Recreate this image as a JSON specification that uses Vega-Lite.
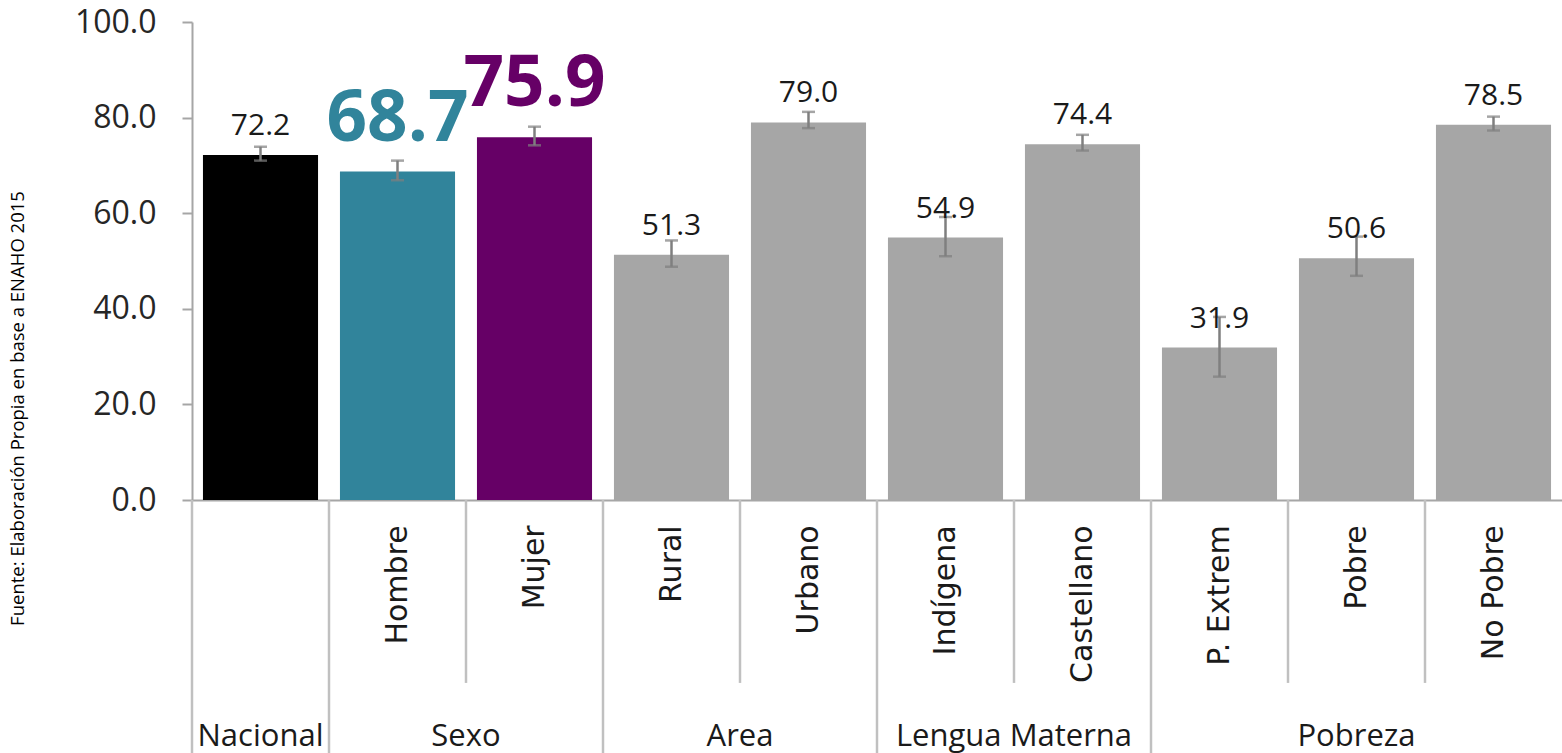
{
  "$schema": "https://vega.github.io/schema/vega-lite/v6.json",
  "padding": {"left": 8, "top": 6, "right": 0, "bottom": 0},
  "background": "white",
  "config": {"view": {"stroke": null}, "font": "Open Sans"},
  "bounds": "flush",
  "datasets": {
    "bars": [
      {"cat": "Nacional", "label": "", "value": 72.2, "lo": 71.0, "hi": 73.9},
      {"cat": "Hombre", "label": "Hombre", "value": 68.7, "lo": 66.9, "hi": 71.0},
      {"cat": "Mujer", "label": "Mujer", "value": 75.9, "lo": 74.2, "hi": 78.1},
      {"cat": "Rural", "label": "Rural", "value": 51.3, "lo": 48.8, "hi": 54.3},
      {"cat": "Urbano", "label": "Urbano", "value": 79.0, "lo": 77.8, "hi": 81.2},
      {"cat": "Indígena", "label": "Indígena", "value": 54.9, "lo": 51.0, "hi": 59.2},
      {"cat": "Castellano", "label": "Castellano", "value": 74.4, "lo": 73.1, "hi": 76.4},
      {"cat": "P. Extrem", "label": "P. Extrem", "value": 31.9, "lo": 25.8, "hi": 38.3},
      {"cat": "Pobre", "label": "Pobre", "value": 50.6, "lo": 46.9, "hi": 55.1},
      {"cat": "No Pobre", "label": "No Pobre", "value": 78.5, "lo": 77.3, "hi": 80.2}
    ],
    "seps": [
      {"cat": "Nacional", "kind": "group"},
      {"cat": "Hombre", "kind": "group"},
      {"cat": "Mujer", "kind": "sub"},
      {"cat": "Rural", "kind": "group"},
      {"cat": "Urbano", "kind": "sub"},
      {"cat": "Indígena", "kind": "group"},
      {"cat": "Castellano", "kind": "sub"},
      {"cat": "P. Extrem", "kind": "group"},
      {"cat": "Pobre", "kind": "sub"},
      {"cat": "No Pobre", "kind": "sub"}
    ],
    "groupsEdge": [
      {"group": "Sexo", "anchor": "Mujer"},
      {"group": "Area", "anchor": "Urbano"},
      {"group": "Lengua Materna", "anchor": "Castellano"}
    ],
    "groupsMid": [
      {"group": "Nacional", "anchor": "Nacional"},
      {"group": "Pobreza", "anchor": "Pobre"}
    ]
  },
  "vconcat": [
    {
      "width": 1370,
      "height": 478,
      "data": {"name": "bars"},
      "encoding": {
        "x": {
          "field": "cat", "type": "nominal", "sort": null,
          "scale": {"paddingInner": 0.16, "paddingOuter": 0.08},
          "axis": {"labels": false, "ticks": false, "title": null, "domainColor": "#a6a6a6", "domainWidth": 2}
        }
      },
      "layer": [
        {
          "mark": {"type": "bar"},
          "encoding": {
            "y": {
              "field": "value", "type": "quantitative",
              "scale": {"domain": [0, 100], "nice": false},
              "axis": {
                "values": [0, 20, 40, 60, 80, 100], "format": ".1f", "grid": false,
                "domainColor": "#a6a6a6", "domainWidth": 2, "tickColor": "#a6a6a6", "tickWidth": 2, "tickSize": 10,
                "labelFont": "Open Sans", "labelFontSize": 32, "labelColor": "#262626", "labelPadding": 26,
                "title": "Fuente: Elaboración Propia en base a ENAHO 2015",
                "titleFont": "Open Sans", "titleFontSize": 18.5, "titleFontWeight": "normal", "titleColor": "#000000",
                "titleAngle": 270, "titleX": -175, "titleY": 386, "titleAlign": "center", "titleBaseline": "middle"
              }
            },
            "color": {
              "field": "cat", "type": "nominal", "legend": null,
              "scale": {
                "domain": ["Nacional", "Hombre", "Mujer", "Rural", "Urbano", "Indígena", "Castellano", "P. Extrem", "Pobre", "No Pobre"],
                "range": ["#000000", "#31849B", "#660066", "#A6A6A6", "#A6A6A6", "#A6A6A6", "#A6A6A6", "#A6A6A6", "#A6A6A6", "#A6A6A6"]
              }
            }
          }
        },
        {
          "mark": {"type": "rule", "color": "#7f7f7f", "strokeWidth": 2.5},
          "encoding": {
            "y": {"field": "lo", "type": "quantitative"},
            "y2": {"field": "hi"}
          }
        },
        {
          "mark": {"type": "tick", "color": "#7f7f7f", "size": 13, "thickness": 2.5},
          "encoding": {"y": {"field": "lo", "type": "quantitative"}}
        },
        {
          "mark": {"type": "tick", "color": "#7f7f7f", "size": 13, "thickness": 2.5},
          "encoding": {"y": {"field": "hi", "type": "quantitative"}}
        },
        {
          "transform": [{"filter": "datum.cat !== 'Hombre' && datum.cat !== 'Mujer'"}],
          "mark": {"type": "text", "font": "Open Sans", "fontSize": 30, "color": "#1a1a1a", "baseline": "alphabetic", "dy": -20},
          "encoding": {
            "y": {"field": "value", "type": "quantitative"},
            "text": {"field": "value", "type": "quantitative", "format": ".1f"}
          }
        },
        {
          "transform": [{"filter": "datum.cat === 'Hombre' || datum.cat === 'Mujer'"}],
          "mark": {"type": "text", "font": "Open Sans", "fontSize": 71, "fontWeight": "bold", "baseline": "alphabetic", "dy": -31},
          "encoding": {
            "y": {"field": "value", "type": "quantitative"},
            "text": {"field": "value", "type": "quantitative", "format": ".1f"},
            "color": {"field": "cat", "type": "nominal", "legend": null}
          }
        }
      ]
    },
    {
      "width": 1370,
      "height": 253,
      "layer": [
        {
          "data": {"name": "seps"},
          "transform": [{"filter": "datum.kind === 'group'"}],
          "mark": {"type": "rule", "color": "#c0c0c0", "strokeWidth": 2.5},
          "encoding": {
            "x": {"field": "cat", "type": "nominal", "bandPosition": 0, "axis": null,
              "scale": {"domain": ["Nacional", "Hombre", "Mujer", "Rural", "Urbano", "Indígena", "Castellano", "P. Extrem", "Pobre", "No Pobre"], "paddingInner": 0, "paddingOuter": 0}},
            "y": {"datum": 0, "type": "quantitative", "scale": {"domain": [0, 1], "reverse": true, "nice": false}, "axis": null},
            "y2": {"datum": 1}
          }
        },
        {
          "data": {"name": "seps"},
          "transform": [{"filter": "datum.kind === 'sub'"}],
          "mark": {"type": "rule", "color": "#c0c0c0", "strokeWidth": 2.5},
          "encoding": {
            "x": {"field": "cat", "type": "nominal", "bandPosition": 0, "axis": null},
            "y": {"datum": 0, "type": "quantitative"},
            "y2": {"datum": 0.723}
          }
        },
        {
          "data": {"name": "bars"},
          "mark": {"type": "text", "font": "DejaVu Sans", "fontSize": 30, "color": "#1a1a1a", "angle": 270, "align": "right", "baseline": "middle"},
          "encoding": {
            "x": {"field": "cat", "type": "nominal", "axis": null},
            "y": {"datum": 0.1, "type": "quantitative"},
            "text": {"field": "label", "type": "nominal"}
          }
        },
        {
          "data": {"name": "groupsEdge"},
          "mark": {"type": "text", "font": "Open Sans", "fontSize": 31, "color": "#1a1a1a", "align": "center", "baseline": "alphabetic"},
          "encoding": {
            "x": {"field": "anchor", "type": "nominal", "bandPosition": 0, "axis": null},
            "y": {"datum": 0.972, "type": "quantitative"},
            "text": {"field": "group", "type": "nominal"}
          }
        },
        {
          "data": {"name": "groupsMid"},
          "mark": {"type": "text", "font": "Open Sans", "fontSize": 31, "color": "#1a1a1a", "align": "center", "baseline": "alphabetic"},
          "encoding": {
            "x": {"field": "anchor", "type": "nominal", "axis": null},
            "y": {"datum": 0.972, "type": "quantitative"},
            "text": {"field": "group", "type": "nominal"}
          }
        }
      ]
    }
  ],
  "spacing": 0
}
